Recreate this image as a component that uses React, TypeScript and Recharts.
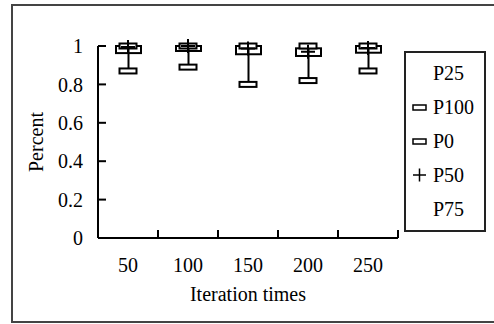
import React from "react";
import { ComposedChart, Bar, Scatter, XAxis, YAxis, Legend, Label } from "recharts";

const categories = ["50", "100", "150", "200", "250"];
const p0 = [0.87, 0.89, 0.8, 0.82, 0.87];
const p25 = [0.963, 0.974, 0.957, 0.948, 0.965];
const p50 = [0.995, 1.0, 0.987, 0.97, 0.99];
const p75 = [1.0, 1.0, 1.0, 0.988, 1.0];
const p100 = [1.0, 1.0, 1.0, 1.0, 1.0];

const seriesNames = ["P25", "P100", "P0", "P50", "P75"];
const seriesMarkers: Record<string, string> = {
  P25: "none",
  P100: "rect",
  P0: "rect",
  P50: "plus",
  P75: "none",
};
const yTicks = [0, 0.2, 0.4, 0.6, 0.8, 1];

const data = categories.map((c, i) => ({
  iter: c,
  p0: p0[i],
  p25: p25[i],
  p50: p50[i],
  p75: p75[i],
  p100: p100[i],
}));

const FONT = "Liberation Serif";
const FS = 20;
const X_TICK_MARGIN = 20;

// box + high-low line; quartile positions come from the bar's own p0..p100 span
function BoxShape(props: any) {
  const { x, y, width, height, payload } = props;
  const span = payload.p100 - payload.p0;
  const toY = (v: number) => y + (height * (payload.p100 - v)) / span;
  const cx = x + width / 2;
  const top = toY(payload.p75);
  const bottom = toY(payload.p25);
  return (
    <g>
      <rect x={x} y={top} width={width} height={Math.max(bottom - top, 0)} fill="#fff" stroke="#000" strokeWidth={2} />
      <line x1={cx} x2={cx} y1={y} y2={y + height} stroke="#000" strokeWidth={2} />
    </g>
  );
}

function RectMarker(props: any) {
  const { cx, cy } = props;
  return <rect x={cx - 8.5} y={cy - 2.5} width={17} height={5} fill="#fff" stroke="#000" strokeWidth={2} />;
}

function PlusMarker(props: any) {
  const { cx, cy } = props;
  return (
    <path d={`M${cx - 7},${cy}H${cx + 7}M${cx},${cy - 7}V${cy + 7}`} stroke="#000" strokeWidth={2} fill="none" />
  );
}

// label at category centre, tick mark at the category's right edge
function CategoryTick(props: any) {
  const { x, y, payload } = props;
  const axisY = y - X_TICK_MARGIN;
  const half = payload.offset ?? 30;
  return (
    <g>
      <line x1={x + half} x2={x + half} y1={axisY} y2={axisY - 8} stroke="#000" strokeWidth={2} />
      <text x={x} y={axisY + 34} textAnchor="middle" fontFamily={FONT} fontSize={FS} fill="#000">
        {payload.value}
      </text>
    </g>
  );
}

function XTitle(props: any) {
  const { viewBox } = props;
  return (
    <text x={viewBox.x + viewBox.width / 2} y={viewBox.y + 63} textAnchor="middle" fontFamily={FONT} fontSize={FS} fill="#000">
      Iteration times
    </text>
  );
}

function YTitle(props: any) {
  const { viewBox } = props;
  const cx = viewBox.x + 43;
  const cy = viewBox.y + viewBox.height / 2;
  return (
    <text x={cx} y={cy} transform={`rotate(-90 ${cx} ${cy})`} textAnchor="middle" fontFamily={FONT} fontSize={FS} fill="#000">
      Percent
    </text>
  );
}

function LegendBox() {
  return (
    <svg width={82} height={181} style={{ display: "block" }}>
      <rect x={1} y={1} width={80} height={179} fill="#fff" stroke="#222" strokeWidth={2} />
      {seriesNames.map((name, i) => {
        const cy = 22 + i * 34;
        const m = seriesMarkers[name];
        return (
          <g key={name}>
            {m === "rect" && <rect x={9} y={cy - 2} width={13} height={5} fill="#fff" stroke="#000" strokeWidth={1.5} />}
            {m === "plus" && (
              <path d={`M9,${cy}H22M15.5,${cy - 6.5}V${cy + 6.5}`} stroke="#000" strokeWidth={1.5} fill="none" />
            )}
            <text x={29} y={cy + 7} fontFamily={FONT} fontSize={FS} fill="#000">
              {name}
            </text>
          </g>
        );
      })}
    </svg>
  );
}

export default function App() {
  return (
    <div style={{ position: "absolute", left: 0, top: 0, width: 494, height: 324, background: "#fff" }}>
      <div
        style={{
          position: "absolute",
          left: 11,
          top: 4,
          width: 483,
          height: 319,
          boxSizing: "border-box",
          border: "2px solid #444",
          borderRight: "none",
        }}
      />
      <ComposedChart width={494} height={324} data={data} margin={{ top: 46, right: 96, left: 0, bottom: 0 }}>
        <XAxis
          dataKey="iter"
          height={86}
          interval={0}
          tickLine={false}
          tickSize={0}
          tickMargin={X_TICK_MARGIN}
          axisLine={{ stroke: "#000", strokeWidth: 2 }}
          tick={<CategoryTick />}
          label={<Label content={XTitle} />}
        />
        <YAxis
          width={98}
          domain={[0, 1]}
          ticks={yTicks}
          tickSize={-8}
          tickMargin={23}
          axisLine={{ stroke: "#000", strokeWidth: 2 }}
          tickLine={{ stroke: "#000", strokeWidth: 2 }}
          tick={{ fill: "#000", fontSize: FS, fontFamily: FONT }}
          label={<Label content={YTitle} />}
        />
        <Bar
          dataKey={(d: any) => [d.p0, d.p100]}
          barSize={25}
          shape={<BoxShape />}
          legendType="none"
          isAnimationActive={false}
        />
        <Scatter dataKey="p0" name="P0" shape={<RectMarker />} isAnimationActive={false} />
        <Scatter dataKey="p100" name="P100" shape={<RectMarker />} isAnimationActive={false} />
        <Scatter dataKey="p50" name="P50" shape={<PlusMarker />} isAnimationActive={false} />
        <Legend
          layout="vertical"
          align="center"
          verticalAlign="middle"
          content={<LegendBox />}
          wrapperStyle={{ position: "absolute", left: 404, top: 51, width: 82, height: 181 }}
        />
      </ComposedChart>
    </div>
  );
}
